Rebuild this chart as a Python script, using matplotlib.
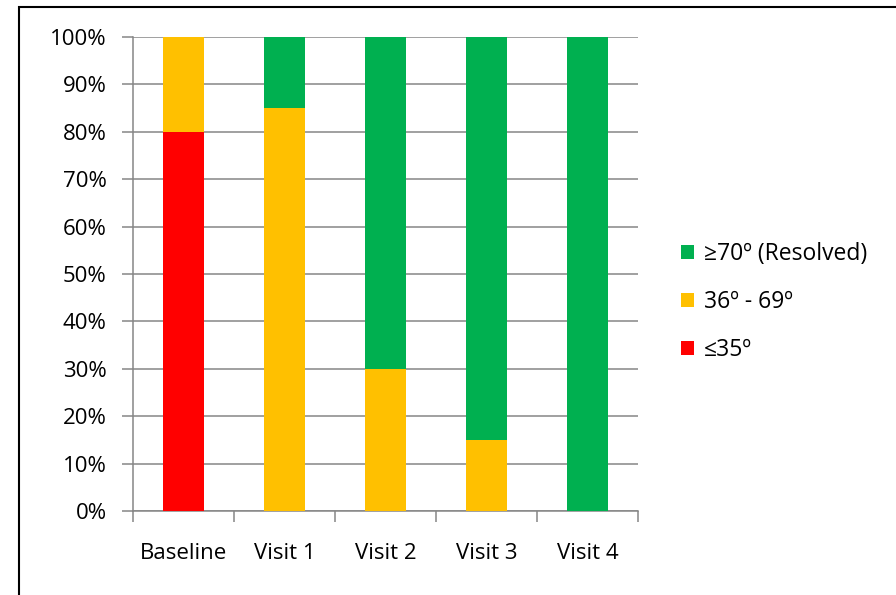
import matplotlib
matplotlib.use("Agg")
import matplotlib.pyplot as plt
from matplotlib.patches import Rectangle
from matplotlib.ticker import FixedLocator, PercentFormatter
import numpy as np

categories = ["Baseline", "Visit 1", "Visit 2", "Visit 3", "Visit 4"]
low = [80, 0, 0, 0, 0]          # ≤35º
mid = [20, 85, 30, 15, 0]       # 36º - 69º
high = [0, 15, 70, 85, 100]     # ≥70º (Resolved)
series_labels = ["≤35º", "36º - 69º", "≥70º (Resolved)"]
colors = ["#FF0000", "#FFC000", "#00B050"]
yticks = [0, 10, 20, 30, 40, 50, 60, 70, 80, 90, 100]

plt.rcParams['font.family'] = ['Open Sans', 'DejaVu Sans']

W, H = 896, 595
fig = plt.figure(figsize=(W / 100, H / 100), dpi=100)
ax = fig.add_axes([133 / W, 1 - 511 / H, (638 - 133) / W, (511 - 37) / H])

x = np.arange(len(categories))
width = 0.41
bottoms = np.zeros(len(categories))
handles = []
for vals, lab, col in zip([low, mid, high], series_labels, colors):
    b = ax.bar(x, vals, width, bottom=bottoms, color=col, label=lab, zorder=3,
               linewidth=0)
    bottoms = bottoms + np.array(vals)
    handles.append(b)

ax.set_xlim(-0.5, len(categories) - 0.5)
ax.set_ylim(0, 100)
ax.yaxis.set_major_locator(FixedLocator(yticks))
ax.yaxis.set_major_formatter(PercentFormatter(decimals=0))
ax.yaxis.grid(True, color='#868686', linewidth=1.1, zorder=0)
ax.set_axisbelow(True)

ax.set_xticks(x)
ax.set_xticklabels(categories)
ax.set_xticks(np.arange(-0.5, len(categories)), minor=True)
ax.tick_params(axis='x', which='major', length=0, pad=23, labelsize=16)
ax.tick_params(axis='x', which='minor', length=8, width=1.1, color='#868686', direction='out')
ax.tick_params(axis='y', length=8, width=1.1, color='#868686', pad=11, labelsize=16)

for s in ['top', 'right']:
    ax.spines[s].set_visible(False)
for s in ['left', 'bottom']:
    ax.spines[s].set_color('#868686')
    ax.spines[s].set_linewidth(1.1)

leg = fig.legend(handles[::-1], series_labels[::-1], loc='center left',
                 bbox_to_anchor=(660 / W, 1 - 302 / H), frameon=False,
                 fontsize=16.5, handlelength=0.6, handleheight=0.6,
                 handletextpad=0.4, labelspacing=1.05)

fig.patches.append(Rectangle((18.5 / W, -0.1), 1.2, 1 - 7.5 / H + 0.1,
                             transform=fig.transFigure, fill=False,
                             edgecolor='black', linewidth=1.5))

fig.savefig("out.png", dpi=100)
